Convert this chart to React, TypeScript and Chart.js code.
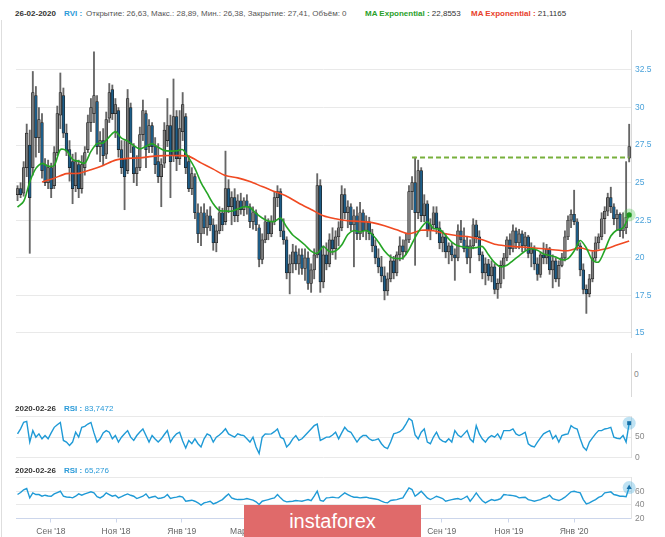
import React, { useEffect, useRef } from "react";
import { Chart, registerables } from "chart.js";

Chart.register(...registerables);

const FONT = "'Liberation Sans', Arial, sans-serif";

// ---------- data (one candle ~ two trading days, last two are daily) ----------
const opens = [
  24.2, 24.6, 24.3, 26.0, 27.5, 26.0, 30.8, 28.0, 29.0, 26.2,
  25.0, 26.0, 24.8, 27.0, 29.5, 30.8, 28.3, 27.2, 26.4, 24.8,
  26.2, 24.6, 26.0, 27.2, 29.0, 29.6, 30.4, 27.4, 27.8, 26.9,
  29.3, 31.2, 29.6, 29.8, 27.2, 26.6, 25.8, 30.0, 27.4, 25.6,
  26.0, 28.2, 29.6, 27.4, 28.8, 27.4, 26.4, 25.4, 26.3, 27.8,
  28.8, 26.8, 29.4, 26.6, 28.4, 29.4, 26.4, 24.6, 25.4, 23.0,
  21.6, 23.0, 22.0, 22.8, 22.2, 21.0, 21.8, 23.0, 22.4, 24.6,
  23.4, 24.0, 22.8, 23.8, 23.2, 23.8, 23.4, 22.4, 23.0, 22.0,
  19.9, 21.2, 22.4, 21.6, 22.4, 24.0, 24.4, 21.8, 21.2, 19.0,
  19.6, 20.4, 19.6, 20.2, 19.3, 20.0, 18.3, 19.2, 20.2, 24.8,
  18.4, 20.2, 19.6, 21.2, 20.6, 21.4, 22.0, 24.2, 23.0, 23.4,
  22.2, 22.8, 21.6, 23.0, 21.8, 22.4, 21.6, 20.8, 20.0, 19.4,
  18.8, 17.8, 18.6, 19.8, 19.0, 20.2, 20.8, 20.4, 21.2, 24.4,
  25.0, 23.0, 25.8, 22.8, 23.6, 21.8, 22.2, 23.0, 22.0, 21.0,
  21.4, 20.4, 20.8, 20.2, 20.0, 21.8, 21.2, 20.8, 20.0, 20.8,
  22.2, 21.4, 20.2, 19.0, 19.6, 18.8, 19.4, 17.9, 18.3, 19.5,
  20.0, 21.2, 20.6, 21.8, 21.0, 21.6, 20.8, 21.4, 20.3, 20.6,
  19.6, 18.9, 20.2, 20.0, 20.6, 19.2, 19.8, 18.6, 19.5, 20.0,
  21.4, 22.5, 22.9, 22.4, 20.8, 19.2, 17.9, 17.6, 18.6, 20.0,
  21.0, 21.4, 22.6, 23.1, 24.0, 23.4, 22.6, 22.9, 21.8, 22.0,
  26.63,
];
const highs = [
  24.8, 25.0, 26.4, 28.9, 28.5, 32.4, 31.4, 30.0, 29.6, 26.6,
  26.5, 26.3, 27.4, 30.1, 32.3, 31.3, 28.9, 27.8, 26.9, 27.0,
  26.5, 26.8, 27.4, 29.5, 30.6, 33.7, 30.8, 28.4, 28.6, 29.7,
  31.6, 31.5, 30.6, 30.0, 27.8, 27.8, 31.2, 30.3, 27.6, 26.8,
  28.7, 30.5, 29.8, 29.2, 29.0, 28.0, 27.6, 26.6, 29.0, 30.6,
  29.5, 31.9, 29.8, 29.8, 31.0, 29.6, 26.8, 26.0, 25.6, 23.6,
  23.4, 23.6, 23.2, 23.4, 22.6, 22.2, 23.4, 23.3, 27.1, 25.2,
  24.4, 24.6, 24.2, 24.3, 24.0, 24.2, 23.6, 23.4, 23.2, 22.2,
  21.6, 22.8, 22.6, 22.8, 24.4, 24.8, 24.6, 22.6, 21.4, 20.2,
  20.9, 20.8, 20.6, 20.6, 20.6, 20.4, 19.6, 20.6, 25.6, 25.2,
  20.8, 21.0, 21.6, 22.0, 21.8, 22.4, 24.8, 24.6, 23.8, 23.6,
  23.2, 23.4, 23.7, 23.2, 22.8, 22.7, 21.9, 21.2, 20.6, 20.1,
  19.4, 19.0, 20.2, 20.1, 20.4, 21.4, 21.2, 21.6, 24.8, 25.4,
  26.7, 26.5, 26.0, 24.2, 23.8, 22.6, 23.4, 23.4, 22.4, 21.8,
  21.6, 21.0, 21.0, 20.6, 22.2, 22.5, 22.0, 21.4, 21.2, 22.6,
  22.5, 21.8, 20.4, 20.0, 19.9, 19.8, 19.6, 18.6, 19.8, 20.3,
  21.4, 21.6, 22.2, 22.0, 21.9, 21.8, 21.7, 21.5, 21.0, 20.8,
  20.0, 20.4, 21.0, 20.9, 20.7, 20.2, 20.0, 19.8, 20.3, 21.8,
  22.8, 23.2, 24.5, 22.6, 21.0, 19.6, 18.2, 18.9, 20.4, 21.4,
  21.6, 23.0, 23.4, 24.3, 24.7, 23.6, 23.2, 23.0, 23.0, 26.4,
  28.89,
];
const lows = [
  23.8, 24.0, 24.1, 25.4, 20.3, 25.5, 26.7, 27.0, 25.3, 24.8,
  24.6, 24.0, 24.6, 26.8, 28.6, 28.0, 26.8, 25.1, 23.6, 24.4,
  24.0, 24.3, 25.5, 27.0, 28.4, 29.0, 26.9, 26.4, 26.2, 26.6,
  29.0, 29.2, 28.0, 26.7, 25.6, 23.2, 25.6, 27.0, 25.0, 24.8,
  25.8, 27.8, 26.0, 27.0, 27.0, 25.6, 25.0, 23.4, 26.0, 27.4,
  24.0, 26.4, 25.8, 26.2, 27.8, 25.6, 24.4, 24.2, 22.6, 21.0,
  20.8, 21.6, 21.5, 21.8, 20.5, 20.4, 21.6, 21.8, 22.2, 23.0,
  22.2, 22.4, 22.4, 22.9, 22.8, 22.9, 22.0, 21.9, 21.8, 19.4,
  19.6, 21.0, 21.2, 21.4, 22.2, 23.4, 21.4, 20.9, 18.6, 17.6,
  19.0, 19.2, 18.9, 18.9, 18.5, 17.9, 17.7, 18.6, 20.0, 17.7,
  18.0, 19.2, 19.4, 20.2, 19.9, 20.8, 21.8, 22.6, 22.0, 21.8,
  19.4, 21.2, 21.2, 21.4, 21.2, 21.2, 20.4, 19.6, 19.0, 18.4,
  17.2, 17.5, 18.4, 18.6, 18.8, 19.8, 19.9, 20.2, 21.0, 23.2,
  19.5, 22.6, 22.4, 22.4, 21.4, 21.2, 21.9, 21.6, 20.6, 20.4,
  20.0, 19.6, 19.8, 18.5, 19.8, 21.0, 20.4, 19.6, 19.0, 20.6,
  21.0, 19.8, 18.6, 18.2, 18.5, 18.4, 17.6, 17.3, 18.0, 18.6,
  19.8, 20.2, 20.4, 20.6, 20.6, 20.4, 20.5, 20.0, 19.4, 19.2,
  18.5, 18.7, 19.6, 19.6, 18.9, 18.0, 18.4, 18.1, 19.4, 19.8,
  21.2, 22.0, 22.2, 20.5, 18.8, 17.6, 16.3, 17.4, 18.4, 19.8,
  20.6, 21.2, 21.6, 22.8, 23.0, 22.2, 21.8, 21.4, 21.3, 21.6,
  26.38,
];
const closes = [
  24.6, 24.2, 26.0, 28.3, 24.0, 31.0, 28.0, 29.2, 25.8, 25.0,
  26.0, 24.6, 27.0, 29.6, 31.0, 28.3, 27.1, 26.0, 24.6, 26.4,
  24.6, 26.2, 27.0, 29.0, 30.0, 30.8, 27.4, 27.8, 26.8, 29.2,
  31.0, 29.6, 30.2, 27.2, 26.0, 25.4, 30.6, 27.6, 25.6, 26.0,
  28.2, 29.8, 27.2, 28.8, 27.4, 26.2, 25.4, 26.2, 28.5, 28.8,
  26.4, 29.4, 26.6, 28.6, 30.2, 26.0, 24.6, 25.6, 23.0, 21.6,
  23.0, 22.0, 22.8, 22.2, 21.0, 21.8, 23.0, 22.2, 24.6, 23.4,
  24.0, 22.8, 23.8, 23.2, 23.8, 23.4, 22.4, 23.0, 22.2, 19.9,
  21.2, 22.4, 21.6, 22.4, 24.0, 24.4, 21.8, 21.2, 19.0, 19.6,
  20.4, 19.6, 20.2, 19.3, 20.0, 18.3, 19.2, 20.2, 24.8, 18.4,
  20.2, 19.6, 21.2, 20.6, 21.4, 22.0, 24.2, 23.0, 23.4, 22.2,
  22.8, 21.6, 23.0, 21.8, 22.4, 21.6, 20.8, 20.0, 19.4, 18.8,
  17.8, 18.6, 19.8, 19.0, 20.2, 20.8, 20.4, 21.2, 24.4, 25.0,
  23.0, 25.8, 22.8, 23.6, 21.8, 22.2, 23.0, 22.0, 21.0, 21.4,
  20.4, 20.8, 20.2, 20.0, 21.8, 21.2, 20.6, 20.0, 20.8, 22.2,
  21.4, 20.2, 19.0, 19.6, 18.8, 19.4, 17.9, 18.3, 19.5, 20.0,
  21.2, 20.6, 21.8, 21.0, 21.6, 20.8, 21.4, 20.3, 20.6, 19.6,
  18.9, 20.2, 20.0, 20.6, 19.2, 19.8, 18.6, 19.5, 20.0, 21.4,
  22.5, 22.9, 22.4, 20.8, 19.2, 17.9, 17.6, 18.6, 20.0, 21.0,
  21.4, 22.6, 23.1, 24.0, 23.4, 22.6, 22.9, 21.8, 22.0, 22.7,
  27.41,
];

// fast EMA (green), one value every 2 candles from candle 0
const emaFastStep = 2;
const emaFast = [
  23.37, 23.75, 25.05, 25.95, 26.28, 26.1, 26.15, 27.2, 27.13, 26.55,
  26.42, 26.3, 27.08, 27.6, 27.64, 28.05, 28.4, 27.97, 27.78, 27.47,
  27.25, 27.42, 27.6, 27.35, 27.15, 27.1, 27.12, 27.2, 26.65, 25.95,
  25.0, 24.3, 23.6, 23.15, 23.12, 23.1, 23.25, 23.4, 23.35, 22.95,
  22.65, 22.45, 22.42, 22.65, 22.05, 21.52, 21.2, 20.85, 20.45, 20.3,
  20.75, 20.42, 20.45, 20.85, 21.55, 21.82, 21.72, 21.82, 21.55, 21.05,
  20.45, 20.05, 19.95, 20.0, 20.55, 21.35, 22.0, 22.4, 21.96, 21.9,
  21.48, 21.05, 20.8, 20.72, 20.65, 20.68, 20.75, 20.2, 19.68, 19.4,
  19.5, 19.82, 20.13, 20.45, 20.6, 20.5, 20.26, 20.16, 20.05, 19.87,
  19.95, 20.45, 21.15, 20.65, 19.85, 19.72, 20.5, 21.45, 21.85, 21.98,
  22.8553,
];
// slow EMA (red), one value every 4 candles from candle 8
const emaSlowStart = 8;
const emaSlowStep = 4;
const emaSlow = [
  25.05, 25.3, 25.6, 25.62, 25.86, 26.15, 26.5, 26.62, 26.65, 26.75,
  26.8, 26.8, 26.75, 26.32, 25.9, 25.47, 25.32, 25.08, 24.74, 24.42,
  24.1, 23.63, 23.22, 22.8, 22.6, 22.47, 22.42, 22.34, 22.14, 21.86,
  21.6, 21.83, 21.8, 21.6, 21.47, 21.39, 21.2, 20.9, 20.79, 20.73,
  20.67, 20.6, 20.52, 20.47, 20.66, 20.46, 20.58, 20.85, 21.1165,
];

// horizontal dashed level
const levelValue = 26.67;
const levelFrom = 129;
const levelTo = 200;

const rsiFast = [
  57.6, 70, 86, 88, 37.6, 65.6, 49.6, 57.6, 45.6, 53.6,
  45.6, 60, 73.6, 80, 85.6, 41.6, 37.6, 29.6, 37.6, 61.6,
  49.6, 73.6, 76, 81.6, 85.6, 60, 37.6, 45.6, 60, 65.6,
  61.6, 45.6, 53.6, 37.6, 49.6, 58, 65.6, 49.6, 41.6, 53.6,
  62, 69.6, 53.6, 37.6, 53.6, 45, 37.6, 45.6, 56, 65.6,
  37.6, 49.6, 57.6, 61.6, 40, 23.2, 41.6, 33.6, 45.6, 33.6,
  25.6, 45.6, 57.6, 53.6, 37.6, 49.6, 55, 61.6, 70, 57.6,
  53.6, 49.6, 57.6, 55, 53.6, 45.6, 37.6, 49.6, 25.6, 9.6,
  49.6, 57.6, 57, 57.6, 63, 69.6, 49.6, 45.6, 25.6, 33.6,
  45.6, 53.6, 41.6, 45.6, 53.6, 61.6, 69.6, 77.6, 81.6, 41.6,
  45.6, 49.6, 49.6, 55, 61.6, 45.6, 60, 73.6, 65, 61.6,
  49.6, 37.6, 48, 53.6, 53.6, 45.6, 41.6, 43, 45.6, 33.6,
  25, 21.6, 37.6, 57.6, 60, 63, 69.6, 81.6, 95.3, 89.7,
  55, 45.6, 61.6, 69.6, 37.6, 33.6, 50, 61.6, 45.6, 40,
  37.6, 45.6, 37.6, 65.6, 55, 49.6, 57.6, 65.6, 45, 37.6,
  77.6, 57.6, 45, 37.6, 48, 53.6, 49.6, 57.6, 45.6, 65.6,
  65.6, 65.6, 69.6, 57.6, 53.6, 57, 61.6, 33.6, 28, 25.6,
  37.6, 48, 57.6, 62, 65.6, 45.6, 53.6, 37.6, 53.6, 56,
  57.6, 77.6, 72, 69.6, 45.6, 25.6, 17.6, 37.6, 48, 57.6,
  65.6, 65.6, 69.6, 71, 73.6, 49.6, 47, 45.6, 53.6, 37.6,
  83.7472,
];
const rsiSlow = [
  55.1, 58, 62, 63.9, 50.2, 57.5, 55.1, 55.1, 52.6, 54.1,
  53, 52.6, 56, 58, 59.9, 52.6, 51.5, 51.2, 50.2, 52.6,
  56, 54.1, 56, 57.5, 59, 57.5, 52, 50.2, 52.6, 57.5,
  55.1, 52.6, 54, 50.2, 52, 54.1, 56, 54, 52.6, 49.2,
  51, 52.6, 56, 50.2, 51.5, 52.6, 49.2, 50, 51.2, 55.1,
  49.2, 50.5, 51.2, 52.6, 51.2, 45.3, 46, 46.8, 45.3, 43,
  39.5, 42.9, 44, 45.3, 41.4, 43, 45.3, 47.7, 52, 56,
  50.2, 48.5, 47.7, 47.7, 48, 49.2, 48, 46.8, 44.5, 40.4,
  45.3, 46.5, 47.7, 49, 50.2, 55.1, 50.2, 46, 44.3, 44.8,
  45.3, 46.3, 45.8, 45.3, 46.5, 47.7, 46, 52.6, 59.9, 46.5,
  45.3, 50.2, 50.5, 51.2, 50.5, 50.2, 54, 57.5, 55, 52.6,
  51.2, 51, 50.2, 50.8, 51.2, 50, 49.2, 48.5, 47.7, 45.5,
  43.5, 42.9, 46.3, 47, 47.7, 49, 50.2, 57.5, 64.8, 62.4,
  52.6, 56, 59.9, 55, 50.2, 47.7, 50, 52.6, 51, 49.2,
  45.3, 46.5, 47.7, 48.5, 49.2, 47.7, 50, 52.6, 45.3, 51,
  57.5, 51.2, 46, 42.9, 45.5, 47.7, 46.3, 47.5, 49.2, 55.1,
  54.5, 54.1, 53.4, 52.6, 50.2, 50.8, 51.2, 47.7, 46.5, 45.3,
  46.5, 47.7, 50, 51.2, 54.1, 49, 47.7, 46.3, 48.5, 51.2,
  55, 59, 59.9, 58.5, 57.5, 47.7, 41.4, 42.9, 45.5, 47.7,
  51, 52.6, 57.5, 58.3, 59, 55.1, 54, 52.6, 52.6, 52,
  65.276,
];

const mainTicks = [15, 17.5, 20, 22.5, 25, 27.5, 30, 32.5];
const rsiFastTicks = [0, 50, 100];
const rsiSlowTicks = [20, 40, 60, 80];
const monthTickIdx = [10.9, 32.2, 53.7, 74.4, 95.8, 117.3, 138.7, 160.7, 182.0];
const monthLabels = ["Сен '18", "Ноя '18", "Янв '19", "Мар '19", "Май '19", "Июл '19", "Сен '19", "Ноя '19", "Янв '20"];

const dateLong = "26-02-2020";
const dateIso = "2020-02-26";

// ---------- layout ----------
const W = 665;
const PAD_LEFT = 16;
const AXIS_W = 34;
const X_MIN = -0.5;
const X_MAX = 200.6;

const fmt = (v: number) => String(v).replace(".", ",");

const setAxisWidth = (s: any) => {
  s.width = AXIS_W;
};

export default function App() {
  const mainRef = useRef<HTMLCanvasElement>(null);
  const rsi1Ref = useRef<HTMLCanvasElement>(null);
  const rsi2Ref = useRef<HTMLCanvasElement>(null);
  const n = opens.length;

  useEffect(() => {
    Chart.defaults.font.family = FONT;
    const idx = opens.map((_, i) => i);
    const isUp = (i: number) => closes[i] >= opens[i];
    const hiddenX: any = { type: "linear", min: X_MIN, max: X_MAX, display: false, offset: false, grid: { offset: false } };
    const base: any = {
      animation: false,
      responsive: false,
      maintainAspectRatio: false,
      events: [],
      plugins: { legend: { display: false }, tooltip: { enabled: false } },
    };
    const charts: Chart[] = [];

    const last = n - 1;
    charts.push(
      new Chart(mainRef.current as HTMLCanvasElement, {
        type: "bar",
        data: {
          datasets: [
            {
              type: "line",
              data: [{ x: last, y: emaFast[emaFast.length - 1] }],
              showLine: false,
              pointRadius: 2.6,
              pointBorderWidth: 0,
              pointBackgroundColor: "#1f9a1f",
              clip: false,
              order: 0,
            },
            {
              type: "line",
              data: [{ x: last, y: emaFast[emaFast.length - 1] }],
              showLine: false,
              pointRadius: 6.5,
              pointBorderWidth: 0,
              pointBackgroundColor: "rgba(90,200,90,0.35)",
              clip: false,
              order: 1,
            },
            {
              type: "line",
              data: emaFast.map((v, k) => ({ x: k * emaFastStep, y: v })),
              borderColor: "#25a525",
              borderWidth: 1.6,
              pointRadius: 0,
              tension: 0.3,
              order: 2,
            },
            {
              type: "line",
              data: emaSlow.map((v, k) => ({ x: emaSlowStart + k * emaSlowStep, y: v })),
              borderColor: "#f04a22",
              borderWidth: 1.6,
              pointRadius: 0,
              tension: 0.3,
              order: 3,
            },
            {
              type: "line",
              data: [
                { x: levelFrom, y: levelValue },
                { x: levelTo, y: levelValue },
              ],
              borderColor: "#78b03c",
              borderWidth: 2,
              borderDash: [5, 3],
              pointRadius: 0,
              order: 4,
            },
            {
              type: "bar",
              data: idx.map((i) => ({ x: i, y: [opens[i], closes[i]] })),
              backgroundColor: (ctx: any) => (isUp(ctx.dataIndex) ? "#7c7c7c" : "#1d5d88"),
              borderColor: "#202020",
              borderWidth: 0.7,
              borderSkipped: false,
              barThickness: 2.8,
              grouped: false,
              order: 5,
            },
            {
              type: "bar",
              data: idx.map((i) => ({ x: i, y: [lows[i], highs[i]] })),
              backgroundColor: "#666666",
              barThickness: 1.2,
              grouped: false,
              order: 6,
            },
          ] as any,
        },
        options: {
          ...base,
          layout: { padding: { left: PAD_LEFT, right: 0, top: 10, bottom: 10 } },
          scales: {
            x: hiddenX,
            y: {
              type: "linear",
              position: "right",
              min: 14.73,
              max: 35.16,
              afterBuildTicks: (s: any) => {
                s.ticks = mainTicks.map((v) => ({ value: v }));
              },
              afterFit: setAxisWidth,
              grid: { color: "#e9e9e9", drawTicks: false },
              border: { display: true, color: "#d9d9d9" },
              ticks: { color: "#4ba2da", font: { size: 8.5 }, padding: 4, callback: (v: any) => String(v) },
            },
          },
        } as any,
      })
    );

    const rsiOptions = (min: number, max: number, ticks: number[], withX: boolean) => ({
      ...base,
      layout: { padding: { left: PAD_LEFT, right: 0, top: 10.5, bottom: withX ? 0.5 : 10.5 } },
      scales: {
        x: withX
          ? {
              type: "linear",
              min: X_MIN,
              max: X_MAX,
              offset: false,
              afterBuildTicks: (s: any) => {
                s.ticks = monthTickIdx.map((v) => ({ value: v }));
              },
              afterFit: (s: any) => {
                s.height = 18;
              },
              grid: { drawOnChartArea: false, drawTicks: true, tickLength: 4, color: "#ccd6eb", offset: false },
              border: { display: true, color: "#ccd6eb" },
              ticks: {
                color: "#666",
                font: { size: 8.5 },
                padding: 4,
                autoSkip: false,
                maxRotation: 0,
                callback: (_v: any, i: number) => monthLabels[i],
              },
            }
          : hiddenX,
        y: {
          type: "linear",
          position: "right",
          min,
          max,
          afterBuildTicks: (s: any) => {
            s.ticks = ticks.map((v) => ({ value: v }));
          },
          afterFit: setAxisWidth,
          grid: { color: "#e9e9e9", drawTicks: false },
          border: { display: true, color: "#e3e3e3" },
          ticks: {
            color: "#888",
            font: { size: 8.5 },
            padding: 4,
            callback: (v: any) => (v === max ? "" : String(v)),
          },
        },
      },
    });

    const rsiDatasets = (vals: number[], style: string, r: number) => [
      {
        data: [{ x: last, y: vals[last] }],
        showLine: false,
        pointStyle: style,
        pointRadius: r,
        pointBorderWidth: 0,
        pointBackgroundColor: "#146fa8",
        clip: false,
        order: 0,
      },
      {
        data: [{ x: last, y: vals[last] }],
        showLine: false,
        pointRadius: 6.5,
        pointBorderWidth: 0,
        pointBackgroundColor: "rgba(40,160,215,0.3)",
        clip: false,
        order: 1,
      },
      {
        data: idx.map((i) => ({ x: i, y: vals[i] })),
        borderColor: "#1f9ad6",
        borderWidth: 1.4,
        pointRadius: 0,
        tension: 0,
        order: 2,
      },
    ];

    charts.push(
      new Chart(rsi1Ref.current as HTMLCanvasElement, {
        type: "line",
        data: { datasets: rsiDatasets(rsiFast, "rect", 2.8) as any },
        options: rsiOptions(0, 100, rsiFastTicks, false) as any,
      })
    );
    charts.push(
      new Chart(rsi2Ref.current as HTMLCanvasElement, {
        type: "line",
        data: { datasets: rsiDatasets(rsiSlow, "triangle", 3) as any },
        options: rsiOptions(20, 80, rsiSlowTicks, true) as any,
      })
    );

    return () => charts.forEach((c) => c.destroy());
  }, []);

  const txt: React.CSSProperties = {
    position: "absolute",
    fontFamily: FONT,
    fontSize: 8,
    lineHeight: "11px",
    whiteSpace: "nowrap",
    zIndex: 2,
  };
  const last = n - 1;

  return (
    <div
      style={{
        position: "fixed",
        left: 0,
        top: 0,
        width: W,
        height: 537,
        background: "#fff",
        overflow: "hidden",
        fontFamily: FONT,
      }}
    >
      <div style={{ position: "absolute", left: 1, top: 20, width: 1, height: 517, background: "#dedede" }} />

      {/* main header */}
      <div style={{ ...txt, left: 15, top: 8, fontWeight: "bold", color: "#333" }}>{dateLong}</div>
      <div style={{ ...txt, left: 64, top: 8, fontWeight: "bold", color: "#2a9ad8" }}>RVI :</div>
      <div style={{ ...txt, left: 86, top: 8, color: "#555" }}>
        {`Открытие: ${fmt(opens[last])}, Макс.: ${fmt(highs[last])}, Мин.: ${fmt(lows[last])}, Закрытие: ${fmt(
          closes[last]
        )}, Объём: 0`}
      </div>
      <div style={{ ...txt, left: 365, top: 8, color: "#333" }}>
        <b style={{ color: "#2aa02a" }}>MA Exponential :</b> {fmt(emaFast[emaFast.length - 1])}
      </div>
      <div style={{ ...txt, left: 471, top: 8, color: "#333" }}>
        <b style={{ color: "#e8412b" }}>MA Exponential :</b> {fmt(emaSlow[emaSlow.length - 1])}
      </div>

      <canvas
        ref={mainRef}
        width={W}
        height={327}
        style={{ position: "absolute", left: 0, top: 20, width: W, height: 327 }}
      />

      {/* empty volume pane */}
      <div style={{ position: "absolute", left: 631, top: 353, width: 1, height: 44, background: "#d9d9d9" }} />
      <div style={{ ...txt, fontSize: 8.5, left: 634, top: 368.5, color: "#888" }}>0</div>

      {/* RSI 1 */}
      <div style={{ ...txt, left: 15, top: 402.5, fontWeight: "bold", color: "#333" }}>{dateIso}</div>
      <div style={{ ...txt, left: 64, top: 402.5, color: "#2a9ad8" }}>
        <b>RSI :</b> {fmt(rsiFast[last])}
      </div>
      <canvas
        ref={rsi1Ref}
        width={W}
        height={62}
        style={{ position: "absolute", left: 0, top: 406, width: W, height: 62 }}
      />

      {/* RSI 2 */}
      <div style={{ ...txt, left: 15, top: 464.5, fontWeight: "bold", color: "#333" }}>{dateIso}</div>
      <div style={{ ...txt, left: 64, top: 464.5, color: "#2a9ad8" }}>
        <b>RSI :</b> {fmt(rsiSlow[last])}
      </div>
      <canvas
        ref={rsi2Ref}
        width={W}
        height={70}
        style={{ position: "absolute", left: 0, top: 467, width: W, height: 70 }}
      />

      {/* watermark */}
      <div
        style={{
          position: "absolute",
          left: 244,
          top: 505,
          width: 177,
          height: 32,
          background: "#e06a6a",
          color: "#fff",
          fontFamily: FONT,
          fontSize: 20,
          lineHeight: "32px",
          textAlign: "center",
          zIndex: 3,
        }}
      >
        instaforex
      </div>
    </div>
  );
}
